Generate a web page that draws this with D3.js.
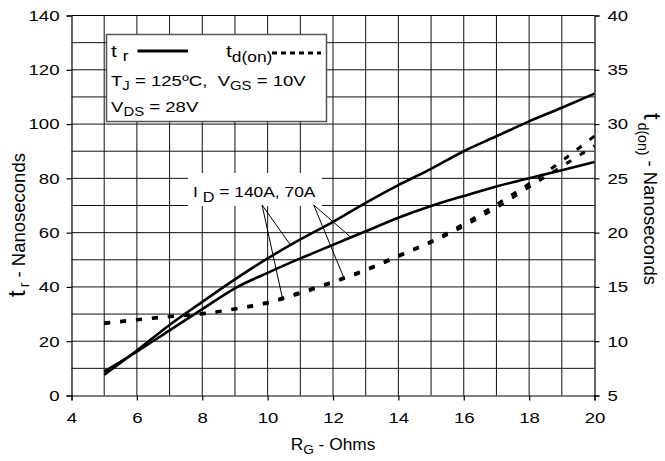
<!DOCTYPE html>
<html>
<head>
<meta charset="utf-8">
<script src="https://cdn.jsdelivr.net/npm/d3@7/dist/d3.min.js"></script>
<style>
  html, body { margin: 0; padding: 0; background: #fff; }
  svg { display: block; }
  text { font-family: "Liberation Sans", Arial, sans-serif; fill: #000; }
</style>
</head>
<body>
<script>
// Gate resistance (ohms)
const rg = [5, 6, 7, 8, 9, 10, 11, 12, 13, 14, 15, 16, 17, 18, 19, 20];
// Rise time t_r (ns), left axis
const tr140 = [7.6, 16.6, 26, 34.5, 42.8, 50.5, 57.5, 64, 71, 77.5, 83.5, 90, 95.5, 101, 106, 111.2];
const tr70  = [8.8, 16.2, 24, 31.8, 39.5, 45.2, 50.5, 55.5, 60.5, 65.5, 69.8, 73.5, 77, 80, 83, 86];
// Turn-on delay t_d(on) (ns), right axis
const tdA = [11.7, 12.0, 12.3, 12.55, 13.0, 13.6, 14.5, 15.5, 16.6, 17.9, 19.2, 20.8, 22.6, 24.5, 26.6, 28.9];
const tdB = [11.6, 11.95, 12.25, 12.5, 12.95, 13.5, 14.4, 15.4, 16.5, 17.8, 19.1, 20.6, 22.3, 24.2, 26.1, 28.0];
// Axis ticks
const xTicks = [4, 6, 8, 10, 12, 14, 16, 18, 20];
const yLeftTicks = [0, 20, 40, 60, 80, 100, 120, 140];
const yRightTicks = [5, 10, 15, 20, 25, 30, 35, 40];
// Leader-line anchors: [label x, curve x] pairs
const leaderTr = [[9.83, 10.7, "tr140"], [11.41, 12.55, "tr70"]];
const leaderTd = [[9.83, 10.45], [11.41, 12.33]];

const W = 665, H = 461;
const SX = 1.24; // horizontal glyph stretch
const NB = "\u00a0";
const svg = d3.select("body").append("svg").attr("width", W).attr("height", H);

const x = d3.scaleLinear().domain([4, 20]).range([71.5, 594.5]);
const yL = d3.scaleLinear().domain([0, 140]).range([395.5, 15.5]);
const yR = d3.scaleLinear().domain([5, 40]).range([395.5, 15.5]);

// grid
const grid = svg.append("g");
grid.selectAll(".vg").data(d3.range(5, 20)).join("line")
  .attr("x1", d => x(d)).attr("x2", d => x(d))
  .attr("y1", yL(0)).attr("y2", yL(140))
  .attr("stroke", "#111").attr("stroke-width", 1);
grid.selectAll(".hg").data(d3.range(10, 140, 10)).join("line")
  .attr("x1", x(4)).attr("x2", x(20))
  .attr("y1", d => yL(d)).attr("y2", d => yL(d))
  .attr("stroke", "#111").attr("stroke-width", 1);

function styleAxis(g, xOff, anchor) {
  g.select(".domain").attr("stroke", "#000").attr("stroke-width", 1.2);
  g.selectAll(".tick line").attr("stroke", "#000").attr("stroke-width", 1.2);
  g.selectAll(".tick text")
    .attr("font-size", 15)
    .attr("font-family", "Liberation Sans, Arial, sans-serif")
    .attr("fill", "#000")
    .attr("transform", `scale(${SX},1)`)
    .attr("x", xOff / SX)
    .attr("text-anchor", anchor);
}

const axL = svg.append("g").attr("transform", `translate(${x(4)},0)`)
  .call(d3.axisLeft(yL).tickValues(yLeftTicks).tickSize(5).tickPadding(7));
styleAxis(axL, -12, "end");

const axR = svg.append("g").attr("transform", `translate(${x(20)},0)`)
  .call(d3.axisRight(yR).tickValues(yRightTicks).tickSize(5).tickPadding(8));
styleAxis(axR, 13, "start");

const axB = svg.append("g").attr("transform", `translate(0,${yL(0)})`)
  .call(d3.axisBottom(x).tickValues(xTicks).tickSize(5).tickPadding(12));
styleAxis(axB, 0, "middle");
axB.selectAll(".tick text").attr("y", 17);

// top frame
svg.append("line").attr("x1", x(4)).attr("x2", x(20)).attr("y1", yL(140)).attr("y2", yL(140))
  .attr("stroke", "#000").attr("stroke-width", 1.2);

// curves
const lineL = d3.line().x((d, i) => x(rg[i])).y(d => yL(d)).curve(d3.curveMonotoneX);
const lineR = d3.line().x((d, i) => x(rg[i])).y(d => yR(d)).curve(d3.curveMonotoneX);

[tr140, tr70].forEach(s => {
  svg.append("path").attr("d", lineL(s)).attr("fill", "none")
    .attr("stroke", "#000").attr("stroke-width", 2.6);
});
[tdA, tdB].forEach(s => {
  svg.append("path").attr("d", lineR(s)).attr("fill", "none")
    .attr("stroke", "#000").attr("stroke-width", 3).attr("stroke-dasharray", "6,10");
});

// annotation
const interp = (xs, ys, v) => {
  const i = Math.min(xs.length - 2, Math.max(0, d3.bisectRight(xs, v) - 1));
  const t = (v - xs[i]) / (xs[i + 1] - xs[i]);
  return ys[i] + t * (ys[i + 1] - ys[i]);
};
svg.append("rect").attr("x", 188).attr("y", 173).attr("width", 134).attr("height", 33).attr("fill", "#fff");
const ann = svg.append("g").attr("transform", `translate(193,197) scale(1.16,1)`);
const at = ann.append("text").attr("font-size", 15);
at.append("tspan").text("I" + NB);
at.append("tspan").attr("font-size", 14).attr("dy", 5).text("D");
at.append("tspan").attr("dy", -5).text(" = 140A, 70A");

const series = { tr140, tr70 };
const labelY = yL(70.2);
leaderTr.forEach(([lx, cx, key], k) => {
  const p0 = [x(lx), labelY];
  const p1 = [x(cx), yL(interp(rg, series[key], cx))];
  const p2 = [x(leaderTd[k][1]), yR(interp(rg, tdA, leaderTd[k][1]))];
  [p1, p2].forEach(p => {
    svg.append("line").attr("x1", p0[0]).attr("y1", p0[1]).attr("x2", p[0]).attr("y2", p[1])
      .attr("stroke", "#000").attr("stroke-width", 1);
  });
});

// legend
svg.append("rect").attr("x", 106.5).attr("y", 34.5).attr("width", 220).attr("height", 87)
  .attr("fill", "#fff").attr("stroke", "#555").attr("stroke-width", 1.5);
function stext(px, py, fs, sx) {
  return svg.append("g").attr("transform", `translate(${px},${py}) scale(${sx || SX},1)`)
    .append("text").attr("font-size", fs);
}
let t = stext(111, 57, 17);
t.append("tspan").text("t" + NB);
t.append("tspan").attr("font-size", 14).attr("dy", 4).text("r");
svg.append("line").attr("x1", 137.5).attr("x2", 188).attr("y1", 51).attr("y2", 51)
  .attr("stroke", "#000").attr("stroke-width", 3);
t = stext(226, 57, 17);
t.append("tspan").text("t");
t.append("tspan").attr("font-size", 14).attr("dy", 5).text("d(on)");
svg.append("line").attr("x1", 272).attr("x2", 321).attr("y1", 53).attr("y2", 53)
  .attr("stroke", "#000").attr("stroke-width", 3).attr("stroke-dasharray", "5,4");
t = stext(111, 86, 15);
t.append("tspan").text("T");
t.append("tspan").attr("font-size", 12).attr("dy", 4).text("J");
t.append("tspan").attr("dy", -4).text(" = 125ºC," + NB + NB + "V");
t.append("tspan").attr("font-size", 12).attr("dy", 4).text("GS");
t.append("tspan").attr("dy", -4).text(" = 10V");
t = stext(111, 112, 15);
t.append("tspan").text("V");
t.append("tspan").attr("font-size", 12).attr("dy", 4).text("DS");
t.append("tspan").attr("dy", -4).text(" = 28V");

// axis titles
t = stext(333, 450, 16.5, 1.05).attr("text-anchor", "middle");
t.append("tspan").text("R");
t.append("tspan").attr("font-size", 13).attr("dy", 4).text("G");
t.append("tspan").attr("dy", -4).text(" - Ohms");

const lt = svg.append("g").attr("transform", "translate(25,297) rotate(-90)")
  .append("text").attr("font-size", 18.5);
lt.append("tspan").attr("font-size", 24).text("t");
lt.append("tspan").attr("font-size", 14).attr("dx", 3).attr("dy", 4).text("r");
lt.append("tspan").attr("dy", -4).text(" - Nanoseconds");

const rt = svg.append("g").attr("transform", "translate(644,113) rotate(90)")
  .append("text").attr("font-size", 18.5);
rt.append("tspan").attr("font-size", 24).text("t");
rt.append("tspan").attr("font-size", 14).attr("dx", 3).attr("dy", 6).text("d(on)");
rt.append("tspan").attr("dy", -6).text(" - Nanoseconds");
</script>
</body>
</html>
